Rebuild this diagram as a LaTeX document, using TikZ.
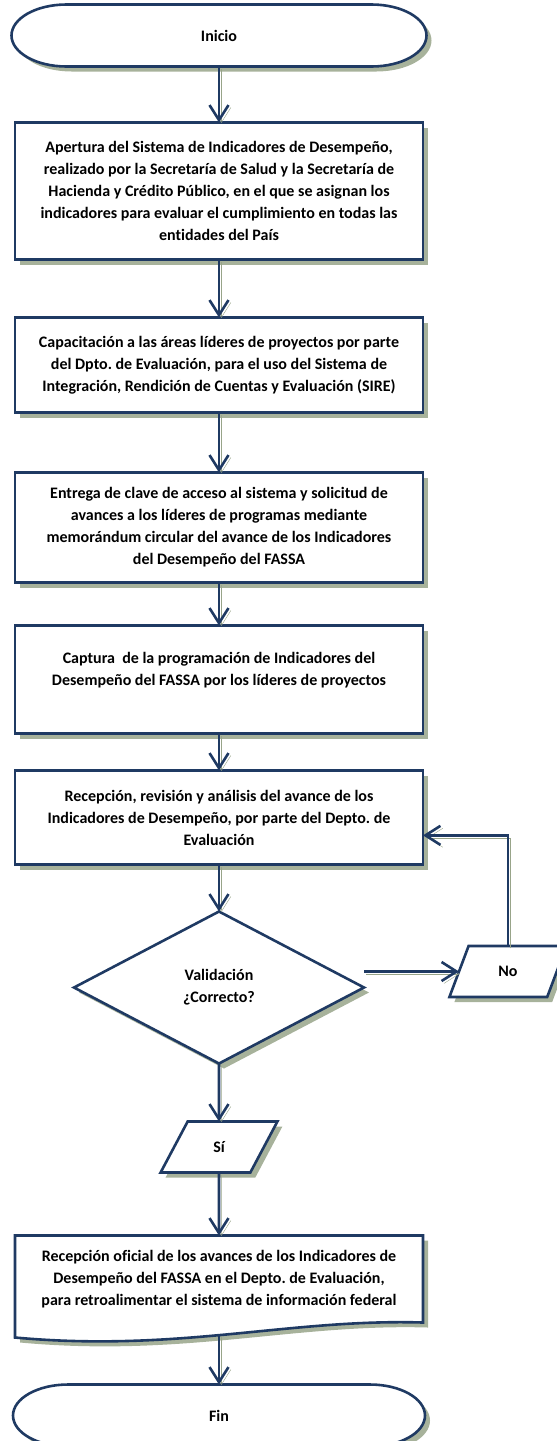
\documentclass[tikz,border=0pt]{standalone}
\usepackage{fontspec}
\setmainfont[Ligatures=NoCommon]{Carlito}
\usepackage{tikz}
\usetikzlibrary{
    shapes.geometric,
    positioning,
    shadows,
    calc,
    arrows.meta,
    backgrounds
}
\frenchspacing
\definecolor{linecol}{RGB}{31,58,99}
\definecolor{shadowcol}{RGB}{152,164,137}
\tikzset{
  basic/.style = {
      draw=linecol,
      line width=2.6pt,
      fill=white,
      font=\fontsize{16}{22}\selectfont\bfseries,
      align=center,
      inner sep=0pt,
      outer sep=0pt,
      drop shadow={shadow xshift=5pt, shadow yshift=-5pt, fill=shadowcol, opacity=0.85}
  },
  box/.style = {
      basic,
      rectangle,
      minimum width=408pt
  },
  rhombus/.style = {
      basic,
      diamond,
      minimum width=290pt,
      minimum height=152pt
  },
  io/.style = {
      basic,
      trapezium,
      trapezium left angle=66,
      trapezium right angle=114,
      trapezium stretches=true,
      minimum width=117pt,
      minimum height=51pt
  },
  plain/.style = {
      draw=none,
      fill=none,
      font=\fontsize{16}{22}\selectfont\bfseries,
      align=center,
      inner sep=0pt,
      outer sep=0pt
  },
  outline/.style = {
      draw=linecol,
      line width=2.6pt,
      fill=white,
      drop shadow={shadow xshift=5pt, shadow yshift=-5pt, fill=shadowcol, opacity=0.85}
  },
  flow/.style = {
      draw=linecol,
      line width=2.6pt,
      -{Straight Barb[length=15pt, width=19pt]},
      preaction={draw=shadowcol, transform canvas={xshift=2.4pt, yshift=-2.4pt}}
  }
}
% outline of a start / end node
\newcommand{\termoutline}[1]{%
  \draw[outline] ($(#1.north west)+(55,0)$) -- ($(#1.north east)+(-55,0)$)
      arc[start angle=90, end angle=-90, x radius=55pt, y radius=31pt]
      -- ($(#1.south west)+(55,0)$)
      arc[start angle=270, end angle=90, x radius=55pt, y radius=31pt]
      -- cycle;%
}

\begin{document}
\begin{tikzpicture}[x=1pt, y=1pt]
    \useasboundingbox (0,0) rectangle (557,-1441);
    % Nodes
    \node[plain, minimum width=415pt, minimum height=62pt] (inicio) at (219,-35.5) {Inicio};
    \node[box, below=56pt of inicio, minimum height=137pt] (apertura)
        {Apertura del Sistema de Indicadores de Desempeño,\\
         realizado por la Secretaría de Salud y la Secretaría de\\
         Hacienda y Crédito Público, en el que se asignan los\\
         indicadores para evaluar el cumplimiento en todas las\\
         entidades del País};
    \node[box, below=58pt of apertura, minimum height=95pt] (capacitacion)
        {Capacitación a las áreas líderes de proyectos por parte\\
         del Dpto. de Evaluación, para el uso del Sistema de\\
         Integración, Rendición de Cuentas y Evaluación (SIRE)};
    \node[box, below=60pt of capacitacion, minimum height=110pt] (entrega)
        {Entrega de clave de acceso al sistema y solicitud de\\
         avances a los líderes de programas mediante\\
         memorándum circular del avance de los Indicadores\\
         del Desempeño del FASSA};
    \node[box, below=43pt of entrega, minimum height=108pt] (captura)
        {Captura~ de la programación de Indicadores del\\
         Desempeño del FASSA por los líderes de proyectos\\
         \mbox{}};
    \node[box, below=37pt of captura, minimum height=94pt] (recepcion)
        {Recepción, revisión y análisis del avance de los\\
         Indicadores de Desempeño, por parte del Depto. de\\
         Evaluación};
    \node[rhombus, below=47pt of recepcion] (valida) {Validación\\¿Correcto?};
    \node[io, right=95pt of valida, yshift=16pt] (no) {No};
    \node[io, below=58pt of valida] (si) {Sí};
    \node[plain, below=63pt of si, minimum width=408pt, minimum height=87pt] (oficial)
        {Recepción oficial de los avances de los Indicadores de\\
         Desempeño del FASSA en el Depto. de Evaluación,\\
         para retroalimentar el sistema de información federal};
    \node[plain, below=62pt of oficial, minimum width=412pt, minimum height=62pt] (fin) {Fin};
    % Outlines
    \begin{scope}[on background layer]
        \termoutline{inicio}
        \termoutline{fin}
        \draw[outline] (oficial.north west) -- (oficial.north east) -- (oficial.south east)
            .. controls +(-135,4) and +(164,-15) .. ($(oficial.south west)+(0,-15)$)
            coordinate[pos=0.5] (ola) -- cycle;
    \end{scope}
    % Edges
    \draw[flow] (inicio) -- (apertura);
    \draw[flow] (apertura) -- (capacitacion);
    \draw[flow] (capacitacion) -- (entrega);
    \draw[flow] (entrega) -- (captura);
    \draw[flow] (captura) -- (recepcion);
    \draw[flow] (recepcion) -- (valida);
    \draw[flow] (valida) -- (si);
    \draw[flow] (si) -- (oficial);
    \draw[flow] (ola -| fin.north) -- (fin);
    \draw[flow] (valida.east |- no.west) -- (no.west);
    \draw[flow] (no.north) |- (recepcion.-5);
\end{tikzpicture}
\end{document}
